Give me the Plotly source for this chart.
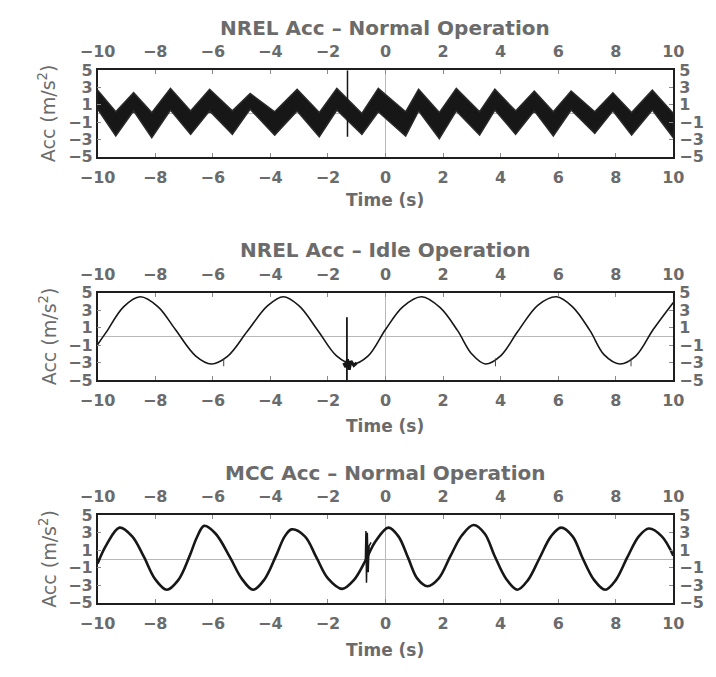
import plotly.graph_objects as go

# ---------------- data ----------------
# Panel 1: NREL Acc - Normal Operation (noisy band: extremum times, upper / lower envelope)
nrel_norm_t = [-10.0, -9.37, -8.75, -8.12, -7.47, -6.77, -6.11, -5.32, -4.70, -3.85, -3.07, -2.30,
               -1.69, -0.82, -0.25, 0.70, 1.15, 1.87, 2.46, 3.27, 3.80, 4.52, 5.17, 5.83, 6.45,
               7.27, 7.90, 8.55, 9.27, 10.0]
nrel_norm_upper = [2.7, 0.2, 2.4, 0.1, 2.9, 0.3, 2.8, 0.3, 2.3, 0.2, 2.8, 0.1,
                   2.9, 0.0, 2.9, 0.2, 2.8, 0.1, 2.9, 0.2, 2.8, 0.3, 2.6, 0.2, 2.6,
                   0.2, 2.4, 0.1, 2.7, 0.0]
nrel_norm_lower = [0.5, -2.6, 0.3, -2.8, 0.4, -2.4, 0.3, -2.4, 0.5, -2.5, 0.3, -2.7,
                   0.4, -2.4, 0.2, -2.6, 0.3, -2.9, 0.3, -2.5, 0.4, -2.4, 0.3, -2.6, 0.4,
                   -2.3, 0.3, -2.5, 0.4, -2.8]
nrel_norm_spike_t = [-1.32, -1.32]
nrel_norm_spike_v = [-2.7, 5.0]

# Panel 2: NREL Acc - Idle Operation
nrel_idle_t = [-10.0, -9.7, -9.1, -8.52, -7.9, -7.3, -6.6, -6.05, -5.5, -4.8, -4.1, -3.55,
               -3.0, -2.35, -1.7, -1.14, -0.6, 0.0, 0.6, 1.26, 1.9, 2.5, 3.0, 3.47, 4.0,
               4.6, 5.3, 5.94, 6.5, 7.1, 7.6, 8.14, 8.7, 9.3, 10.0]
nrel_idle_v = [-0.9, 0.5, 3.4, 4.55, 3.4, 0.8, -2.2, -3.13, -2.3, 0.6, 3.5, 4.55,
               3.5, 0.7, -2.2, -3.13, -2.2, 0.8, 3.4, 4.55, 3.3, 0.7, -2.0, -3.13, -2.2,
               0.6, 3.6, 4.55, 3.4, 0.7, -2.1, -3.13, -2.2, 0.8, 3.9]
nrel_idle_spike_t = [-1.34, -1.34]
nrel_idle_spike_v = [-5.0, 2.2]
nrel_idle_blob_t = [-1.45, -1.38, -1.32, -1.26, -1.2, -1.1, -1.0]
nrel_idle_blob_v = [-3.0, -3.5, -2.6, -3.8, -2.8, -3.3, -3.0]
nrel_idle_glitch_t = [-5.62, -5.62, None, 3.82, 3.82, None, 8.53, 8.53]
nrel_idle_glitch_v = [-2.5, -3.4, None, -2.5, -3.4, None, -2.5, -3.4]

# Panel 3: MCC Acc - Normal Operation
mcc_t = [-10.0, -9.7, -9.24, -8.8, -8.4, -8.0, -7.6, -7.2, -6.8, -6.55, -6.3, -5.9, -5.4,
         -5.0, -4.6, -4.2, -3.8, -3.5, -3.26, -2.8, -2.4, -2.0, -1.5, -1.1, -0.7, -0.35,
         0.1, 0.45, 0.78, 1.1, 1.46, 1.85, 2.25, 2.65, 3.06, 3.45, 3.8, 4.2, 4.58, 4.95,
         5.35, 5.75, 6.1, 6.5, 6.85, 7.25, 7.63, 8.0, 8.4, 8.8, 9.15, 9.6, 10.0]
mcc_v = [-0.5, 1.6, 3.6, 2.6, 0.3, -2.3, -3.5, -2.4, 0.4, 2.5, 3.8, 2.9, 0.2,
         -2.2, -3.5, -2.3, 0.4, 2.6, 3.4, 2.6, 0.2, -2.2, -3.4, -2.4, -0.2, 2.0,
         3.6, 2.6, 0.2, -2.2, -3.1, -2.2, 0.3, 2.7, 3.9, 2.9, 0.3, -2.3, -3.5, -2.4,
         0.1, 2.6, 3.6, 2.6, 0.1, -2.4, -3.5, -2.4, 0.2, 2.6, 3.5, 2.6, 0.4]
mcc_spike_t = [-0.7, -0.68, -0.66, -0.63, -0.6, -0.57, -0.5]
mcc_spike_v = [-0.2, 3.2, -2.7, 3.0, -1.5, 1.5, 1.9]

titles = ["NREL Acc \u2013 Normal Operation", "NREL Acc \u2013 Idle Operation", "MCC Acc \u2013 Normal Operation"]
x_ticks = [-10, -8, -6, -4, -2, 0, 2, 4, 6, 8, 10]
y_ticks = [5, 3, 1, -1, -3, -5]
x_label = "Time (s)"
y_label = "Acc (m/s<sup>2</sup>)"

# ---------------- layout geometry ----------------
W, H = 716, 677
X0, X1 = 83, 683
panels_px = [(63, 152), (292, 382), (521, 611)]
title_px = [20, 248, 477]
xlabel_px = [197, 429, 659]

FONT = "DejaVu Sans, Liberation Sans, Arial, sans-serif"
GRAY = "#6b6b6b"
INK = "#171717"

def py(v):
    return 1 - v / H

def ax(name, i):
    return name if i == 1 else f"{name}{i}"

fig = go.Figure()
layout = dict(width=W, height=H, margin=dict(l=0, r=0, t=0, b=0),
              paper_bgcolor="white", plot_bgcolor="white", showlegend=False)

annotations = []
panel_axes = []
for i, (top, bot) in enumerate(panels_px):
    n = 2 * i + 1
    xb, xt, yl, yr = ax("x", n), ax("x", n + 1), ax("y", n), ax("y", n + 1)
    panel_axes.append((xb, xt, yl, yr))
    kx = lambda k: "xaxis" if k == 1 else f"xaxis{k}"
    ky = lambda k: "yaxis" if k == 1 else f"yaxis{k}"
    dom_y = [py(bot), py(top)]
    dom_x = [X0 / W, X1 / W]
    tickfont = dict(family=FONT, size=16, color=GRAY, weight="bold")
    common_x = dict(range=[-10, 10], autorange=False, tickvals=x_ticks, ticks="inside", ticklen=4,
                    tickwidth=1, tickcolor="#8a8a8a", tickfont=tickfont, showgrid=False)
    common_y = dict(range=[-5, 5], autorange=False, tickvals=y_ticks, ticks="inside", ticklen=4,
                    tickwidth=1, tickcolor="#8a8a8a", tickfont=tickfont, showgrid=False)
    layout[kx(n)] = dict(domain=dom_x, anchor=yl, side="bottom", showline=True, mirror=True,
                         linecolor="#1e1e1e", linewidth=2, zeroline=True,
                         zerolinecolor="#b8b8b8", zerolinewidth=1, ticklabelstandoff=5, **common_x)
    layout[kx(n + 1)] = dict(overlaying=xb, anchor=yl, side="top", showline=False,
                             zeroline=False, ticklabelstandoff=9, **common_x)
    layout[ky(n)] = dict(domain=dom_y, anchor=xb, side="left", showline=True, mirror=True,
                         linecolor="#1e1e1e", linewidth=1.5, zeroline=True,
                         zerolinecolor="#b8b8b8", zerolinewidth=1, ticklabelstandoff=0, **common_y)
    layout[ky(n + 1)] = dict(overlaying=yl, anchor=xb, side="right", showline=False,
                             zeroline=False, ticklabelstandoff=5, **common_y)

    annotations.append(dict(text=f"<b>{titles[i]}</b>", x=(X0 + X1) / 2 / W, y=py(title_px[i]),
                            xref="paper", yref="paper", xanchor="center", yanchor="middle",
                            showarrow=False, font=dict(family=FONT, size=20, color=GRAY)))
    annotations.append(dict(text=f"<b>{x_label}</b>", x=(X0 + X1) / 2 / W, y=py(xlabel_px[i]),
                            xref="paper", yref="paper", xanchor="center", yanchor="middle",
                            showarrow=False, font=dict(family=FONT, size=17, color=GRAY)))
    annotations.append(dict(text=y_label, x=31 / W, y=py((top + bot) / 2),
                            xref="paper", yref="paper", xanchor="center", yanchor="middle",
                            textangle=-90, showarrow=False,
                            font=dict(family=FONT, size=19, color=GRAY)))

layout["annotations"] = annotations
fig.update_layout(**layout)

# empty traces so the top / right companion axes are drawn
for xb, xt, yl, yr in panel_axes:
    fig.add_trace(go.Scatter(x=[], y=[], mode="lines", xaxis=xt, yaxis=yr, hoverinfo="skip"))

edge = dict(color="#2a2a2a", width=1.5)
xb, xt, yl, yr = panel_axes[0]
fig.add_trace(go.Scatter(x=nrel_norm_t, y=nrel_norm_lower, mode="lines", line=edge,
                         xaxis=xb, yaxis=yl, hoverinfo="skip"))
fig.add_trace(go.Scatter(x=nrel_norm_t, y=nrel_norm_upper, mode="lines", line=edge,
                         fill="tonexty", fillcolor=INK, xaxis=xb, yaxis=yl, hoverinfo="skip"))
fig.add_trace(go.Scatter(x=nrel_norm_spike_t, y=nrel_norm_spike_v, mode="lines",
                         line=dict(color=INK, width=1.5), xaxis=xb, yaxis=yl))

xb, xt, yl, yr = panel_axes[1]
fig.add_trace(go.Scatter(x=nrel_idle_t, y=nrel_idle_v, mode="lines", line_shape="spline",
                         line=dict(color=INK, width=1.6, smoothing=1.0), xaxis=xb, yaxis=yl))
fig.add_trace(go.Scatter(x=nrel_idle_spike_t, y=nrel_idle_spike_v, mode="lines",
                         line=dict(color=INK, width=1.8), xaxis=xb, yaxis=yl))
fig.add_trace(go.Scatter(x=nrel_idle_blob_t, y=nrel_idle_blob_v, mode="lines",
                         line=dict(color=INK, width=3), xaxis=xb, yaxis=yl))
fig.add_trace(go.Scatter(x=nrel_idle_glitch_t, y=nrel_idle_glitch_v, mode="lines",
                         line=dict(color="#444", width=1), xaxis=xb, yaxis=yl))

xb, xt, yl, yr = panel_axes[2]
fig.add_trace(go.Scatter(x=mcc_t, y=mcc_v, mode="lines", line_shape="spline",
                         line=dict(color=INK, width=2.6, smoothing=1.0), xaxis=xb, yaxis=yl))
fig.add_trace(go.Scatter(x=mcc_spike_t, y=mcc_spike_v, mode="lines",
                         line=dict(color=INK, width=1.5), xaxis=xb, yaxis=yl))

fig.write_html("out.html")
